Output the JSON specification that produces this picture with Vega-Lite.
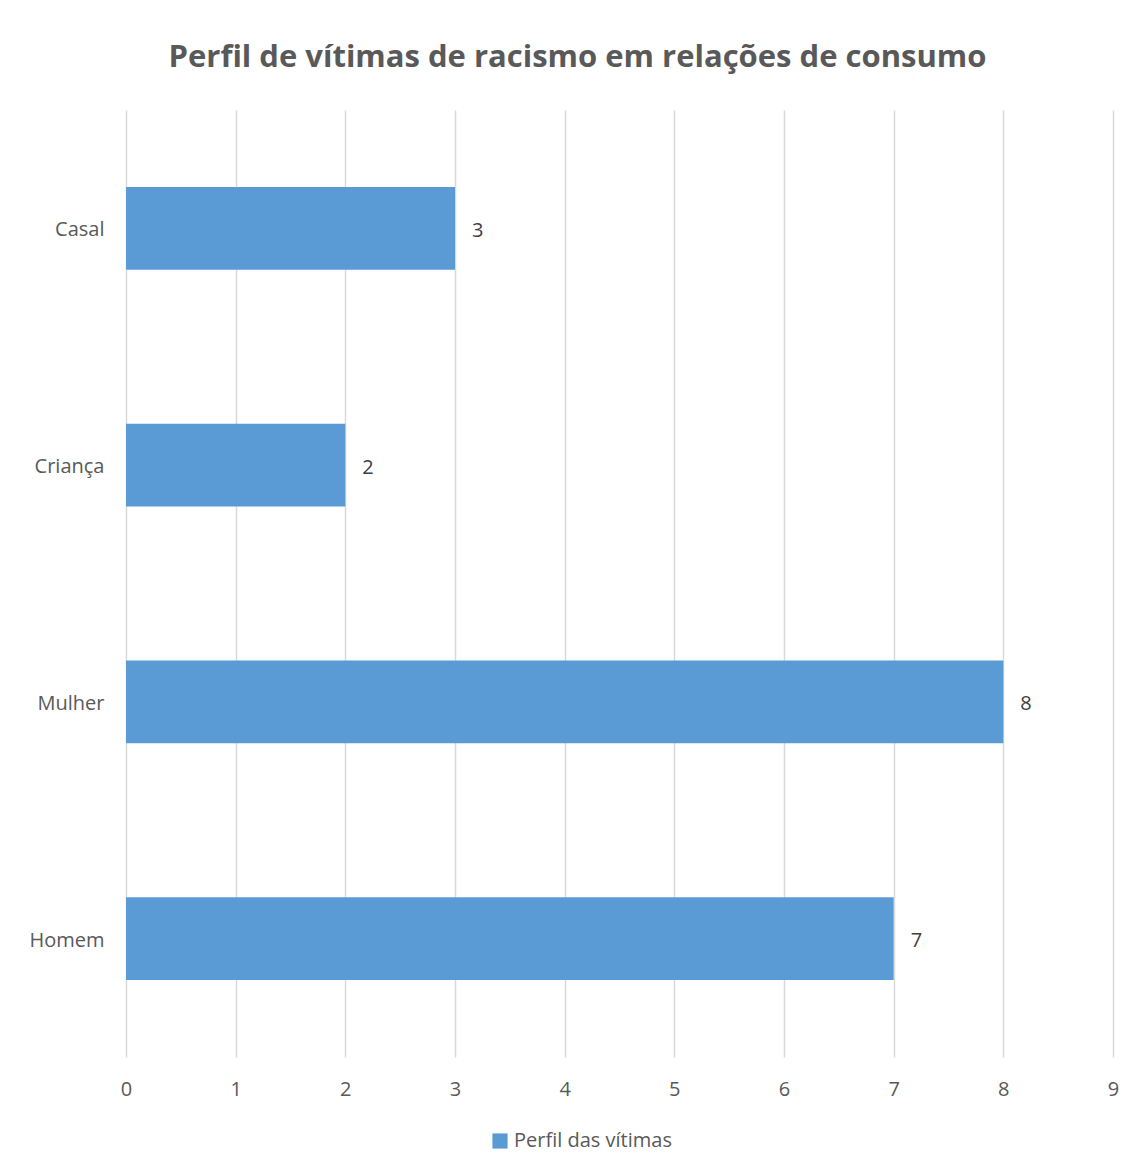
{
  "$schema": "https://vega.github.io/schema/vega-lite/v6.json",
  "autosize": {"type": "none"},
  "width": 987,
  "height": 947,
  "padding": {"left": 126, "top": 110, "right": 26, "bottom": 116},
  "background": "white",
  "title": {
    "text": "Perfil de vítimas de racismo em relações de consumo",
    "font": "Open Sans",
    "fontSize": 31,
    "fontWeight": "bold",
    "color": "#595959",
    "anchor": "middle",
    "dx": -42,
    "offset": 36
  },
  "data": {
    "values": [
      {"perfil": "Casal", "vitimas": 3, "serie": "Perfil das vítimas"},
      {"perfil": "Criança", "vitimas": 2, "serie": "Perfil das vítimas"},
      {"perfil": "Mulher", "vitimas": 8, "serie": "Perfil das vítimas"},
      {"perfil": "Homem", "vitimas": 7, "serie": "Perfil das vítimas"}
    ]
  },
  "encoding": {
    "y": {
      "field": "perfil",
      "type": "nominal",
      "sort": ["Casal", "Criança", "Mulher", "Homem"],
      "scale": {"paddingInner": 0.65, "paddingOuter": 0.325},
      "axis": {
        "title": null,
        "domain": false,
        "ticks": false,
        "labelPadding": 22,
        "labelOffset": 2,
        "labelFont": "Open Sans",
        "labelFontSize": 20,
        "labelColor": "#595959",
        "labelBaseline": "middle"
      }
    },
    "x": {
      "field": "vitimas",
      "type": "quantitative",
      "scale": {"domain": [0, 9], "nice": false},
      "axis": {
        "title": null,
        "values": [0, 1, 2, 3, 4, 5, 6, 7, 8, 9],
        "domain": false,
        "ticks": false,
        "labelFlush": false,
        "labelPadding": 22,
        "labelFont": "Open Sans",
        "labelFontSize": 20,
        "labelColor": "#595959",
        "grid": true,
        "gridColor": "#D9D9D9",
        "gridWidth": 1.5
      }
    }
  },
  "layer": [
    {
      "mark": {"type": "bar", "cornerRadius": 0},
      "encoding": {
        "color": {
          "field": "serie",
          "type": "nominal",
          "scale": {"range": ["#5B9BD5"]},
          "legend": {
            "title": null,
            "orient": "none",
            "legendX": 364,
            "legendY": 1021,
            "symbolType": "square",
            "symbolSize": 230,
            "symbolStrokeWidth": 0,
            "labelFont": "Open Sans",
            "labelFontSize": 20,
            "labelColor": "#595959",
            "labelOffset": 4
          }
        }
      }
    },
    {
      "mark": {
        "type": "text",
        "align": "left",
        "baseline": "middle",
        "dx": 17,
        "dy": 2.5,
        "font": "Open Sans",
        "fontSize": 20,
        "color": "#404040"
      },
      "encoding": {
        "text": {"field": "vitimas", "type": "quantitative"}
      }
    }
  ],
  "config": {
    "view": {"stroke": null}
  }
}
